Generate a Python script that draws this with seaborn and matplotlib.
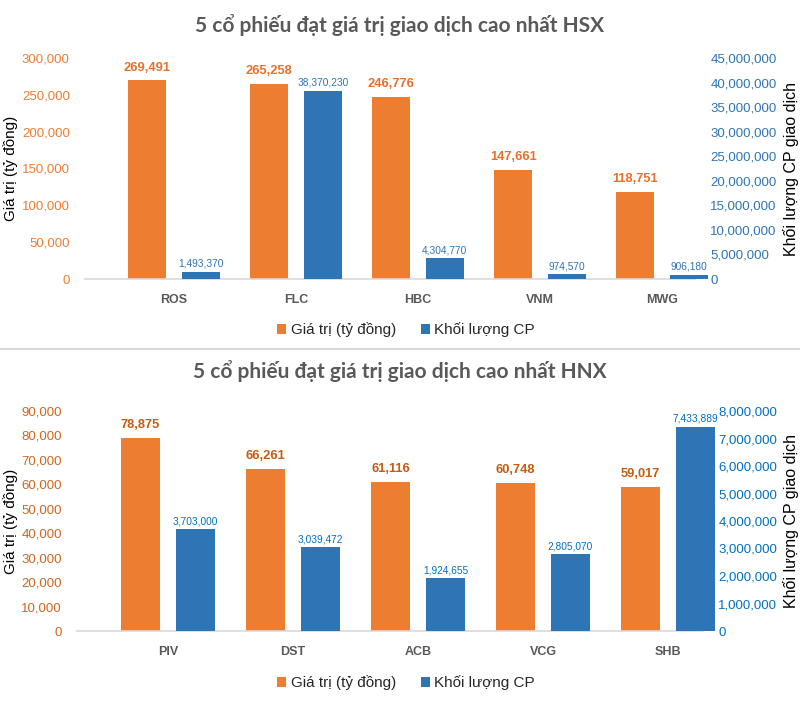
import matplotlib
matplotlib.use("Agg")
import matplotlib.pyplot as plt
import seaborn as sns
import pandas as pd
from matplotlib import font_manager
from matplotlib.patches import Patch
from matplotlib.lines import Line2D
from matplotlib.ticker import MultipleLocator, FuncFormatter

# ---------------- data ----------------
hsx_codes = ["ROS", "FLC", "HBC", "VNM", "MWG"]
hsx_value = [269491, 265258, 246776, 147661, 118751]
hsx_volume = [1493370, 38370230, 4304770, 974570, 906180]

hnx_codes = ["PIV", "DST", "ACB", "VCG", "SHB"]
hnx_value = [78875, 66261, 61116, 60748, 59017]
hnx_volume = [3703000, 3039472, 1924655, 2805070, 7433889]

series_names = ["Giá trị (tỷ đồng)", "Khối lượng CP"]
title_hsx = "5 cổ phiếu đạt giá trị giao dịch cao nhất HSX"
title_hnx = "5 cổ phiếu đạt giá trị giao dịch cao nhất HNX"
y_left_label = "Giá trị (tỷ đồng)"
y_right_label = "Khối lượng CP giao dịch"

# ---------------- style ----------------
sns.set_style("white")
names = {f.name for f in font_manager.fontManager.ttflist}
HAS_NARROW = "Liberation Sans Narrow" in names
NARROW = "Liberation Sans Narrow" if HAS_NARROW else "Liberation Sans"
TITLEF = "Lato" if "Lato" in names else "DejaVu Sans"
plt.rcParams["font.family"] = ["Liberation Sans", "DejaVu Sans"]

ORANGE = "#ED7D31"
BLUE = "#2E75B6"
W, H = 800, 724

fig = plt.figure(figsize=(W / 100, H / 100), dpi=100)


def fx(px):
    return px / W


def fy(py):
    return 1 - py / H


def panel(left, right, top, bottom, xlim, codes, values, volumes, title, title_y,
          legend_y, lmax, lstep, rmax, rstep, lcol, lab_or, rcol, lab_bl):
    ax = fig.add_axes([fx(left), fy(bottom), fx(right - left), (bottom - top) / H])
    df_l = pd.DataFrame({"code": codes, "series": series_names[0], "v": values})
    df_r = pd.DataFrame({"code": codes, "series": series_names[1], "v": volumes})
    sns.barplot(data=df_l, x="code", y="v", hue="series", hue_order=series_names,
                order=codes, palette=[ORANGE, BLUE], width=0.88, gap=0.3, dodge=True,
                saturation=1, legend=False, ax=ax)
    ax2 = ax.twinx()
    sns.barplot(data=df_r, x="code", y="v", hue="series", hue_order=series_names,
                order=codes, palette=[ORANGE, BLUE], width=0.88, gap=0.3, dodge=True,
                saturation=1, legend=False, ax=ax2)
    for a in (ax, ax2):
        for p in a.patches:
            p.set_clip_on(False)
            p.set_edgecolor("none")
    ax.set_xlim(*xlim)
    ax2.set_xlim(*xlim)
    ax.set_ylim(0, lmax)
    ax2.set_ylim(0, rmax)
    ax.yaxis.set_major_locator(MultipleLocator(lstep))
    ax2.yaxis.set_major_locator(MultipleLocator(rstep))
    fmt = FuncFormatter(lambda v, p: f"{v:,.0f}")
    ax.yaxis.set_major_formatter(fmt)
    ax2.yaxis.set_major_formatter(fmt)
    ax.tick_params(axis="y", length=0, pad=11, labelsize=9.5, labelcolor=lcol)
    ax2.tick_params(axis="y", length=0, pad=11, labelsize=9.5, labelcolor=rcol)
    ax.tick_params(axis="x", length=0, pad=11, labelsize=9, labelcolor="#595959")
    for t in ax.get_xticklabels():
        t.set_fontweight("bold")
    ax.set_xlabel("")
    ax.set_ylabel("")
    ax2.set_ylabel("")
    for a in (ax, ax2):
        for s in a.spines.values():
            s.set_visible(False)
    ax.spines["bottom"].set_visible(True)
    ax.spines["bottom"].set_color("#D9D9D9")
    ax.spines["bottom"].set_linewidth(1.2)
    ax.grid(False)
    ax2.grid(False)

    for c in ax.containers:
        ax.bar_label(c, fmt="{:,.0f}", padding=5,
                     fontsize=10.5 if HAS_NARROW else 9.3, fontweight="bold",
                     color=lab_or, family=NARROW)
    for c in ax2.containers:
        ax2.bar_label(c, fmt="{:,.0f}", padding=2,
                      fontsize=8.5 if HAS_NARROW else 7.3, color=lab_bl,
                      family=NARROW)

    cy = fy((top + bottom) / 2)
    fig.text(fx(11), cy, y_left_label, rotation=90, ha="center", va="center",
             fontsize=11, color="black")
    fig.text(fx(791), cy, y_right_label, rotation=90, ha="center", va="center",
             fontsize=11.5, color="black")
    fig.text(0.5, fy(title_y), title, ha="center", va="center", fontsize=15,
             fontweight="bold", color="#595959", family=TITLEF)
    handles = [Patch(facecolor=ORANGE, edgecolor="none"),
               Patch(facecolor=BLUE, edgecolor="none")]
    fig.legend(handles, series_names, loc="center", bbox_to_anchor=(fx(406), fy(legend_y)),
               ncol=2, frameon=False, fontsize=11, handlelength=0.6, handleheight=0.6,
               handletextpad=0.3, columnspacing=1.6)
    return ax, ax2


panel(85, 695, 58, 279, ((85 - 174) / 122, (695 - 174) / 122), hsx_codes, hsx_value,
      hsx_volume, title_hsx, 25, 330, 300000, 50000, 45000000, 5000000,
      "#ED7D31", "#E8702A", "#2E75B6", "#2E75B6")

panel(77, 703, 411, 631, ((77 - 168) / 125, (703 - 168) / 125), hnx_codes, hnx_value,
      hnx_volume, title_hnx, 371, 683, 90000, 10000, 8000000, 1000000,
      "#D0661F", "#C55A11", "#0070C0", "#0070C0")

fig.add_artist(Line2D([0, 1], [fy(349), fy(349)], color="#D9D9D9", lw=1.5,
                      transform=fig.transFigure))

fig.savefig("out.png", dpi=100, facecolor="white")
